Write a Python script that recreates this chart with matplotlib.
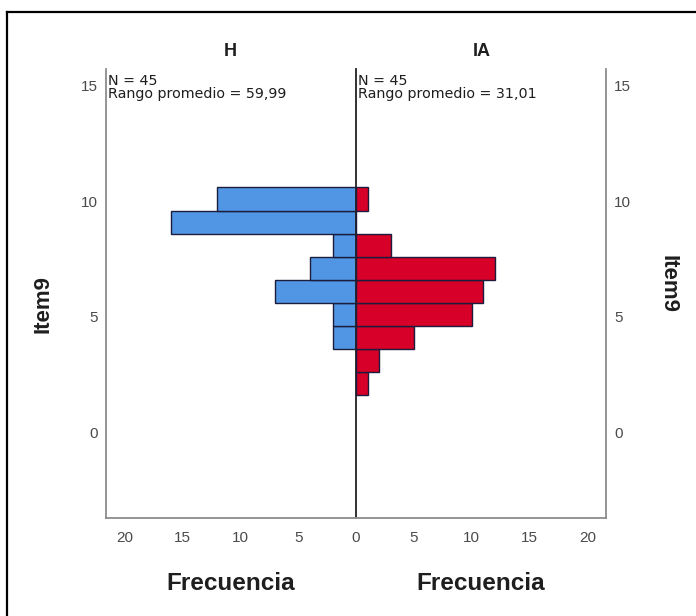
import matplotlib
matplotlib.use("Agg")
import matplotlib.pyplot as plt
from matplotlib.lines import Line2D

plt.rcParams['font.family'] = ['Liberation Sans', 'DejaVu Sans']

# Data
bin_centers = [2.1, 3.1, 4.1, 5.1, 6.1, 7.1, 8.1, 9.1, 10.1]
freq_H = [0, 0, 2, 2, 7, 4, 2, 16, 12]
freq_IA = [1, 2, 5, 10, 11, 12, 3, 0, 1]
group_titles = ["H", "IA"]
stats_H = ["N = 45", "Rango promedio = 59,99"]
stats_IA = ["N = 45", "Rango promedio = 31,01"]
y_ticks = [0, 5, 10, 15]
x_ticks = [0, 5, 10, 15, 20]
y_label = "Item9"
x_label = "Frecuencia"

blue = "#5096E4"
red = "#D60028"
edge = "#1c1c3c"
axis_gray = "#8c8c8c"
tick_color = "#4a4a4a"
text_color = "#1e1e1e"

W, H = 696, 616
fig = plt.figure(figsize=(W / 100, H / 100), dpi=100)

def fx(px):
    return px / W

def fy(py):
    return 1 - py / H

x0, xm, x1 = 106, 356, 606
ytop, ybot = 69, 518
axL = fig.add_axes([fx(x0), fy(ybot), fx(xm - x0), fy(ytop) - fy(ybot)])
axR = fig.add_axes([fx(xm), fy(ybot), fx(x1 - xm), fy(ytop) - fy(ybot)])

ylim = (-3.72, 15.73)
xmax = 21.6

axL.barh(bin_centers, freq_H, height=1.0, color=blue, edgecolor=edge, linewidth=1.0)
axR.barh(bin_centers, freq_IA, height=1.0, color=red, edgecolor=edge, linewidth=1.0)

axL.set_xlim(xmax, 0)
axR.set_xlim(0, xmax)
for ax in (axL, axR):
    ax.set_ylim(*ylim)
    ax.spines['top'].set_visible(False)
    ax.set_facecolor('none')
    ax.tick_params(length=0, colors=tick_color, labelsize=11)
    ax.tick_params(axis='x', pad=9)
    ax.tick_params(axis='y', pad=6)

axL.set_yticks(y_ticks)
axL.set_xticks(x_ticks)
axL.spines['left'].set_color(axis_gray)
axL.spines['left'].set_linewidth(1.3)
axL.spines['bottom'].set_color(axis_gray)
axL.spines['bottom'].set_linewidth(1.3)
axL.spines['right'].set_color("#222222")
axL.spines['right'].set_linewidth(1.3)

axR.set_xticks(x_ticks[1:])
axR.set_yticks(y_ticks)
axR.yaxis.tick_right()
axR.spines['left'].set_visible(False)
axR.spines['right'].set_color(axis_gray)
axR.spines['right'].set_linewidth(1.3)
axR.spines['bottom'].set_color(axis_gray)
axR.spines['bottom'].set_linewidth(1.3)

# axis titles
fig.text(fx(43), fy(304), y_label, rotation=90, ha='center', va='center',
         fontsize=16, fontweight='bold', color=text_color)
fig.text(fx(668), fy(284), y_label, rotation=270, ha='center', va='center',
         fontsize=16, fontweight='bold', color=text_color)
fig.text(fx(231), fy(583), x_label, ha='center', va='center',
         fontsize=17.5, fontweight='bold', color=text_color)
fig.text(fx(481), fy(583), x_label, ha='center', va='center',
         fontsize=17.5, fontweight='bold', color=text_color)

# panel titles
fig.text(fx(230), fy(52), group_titles[0], ha='center', va='center',
         fontsize=13, fontweight='bold', color=text_color)
fig.text(fx(482), fy(52), group_titles[1], ha='center', va='center',
         fontsize=13, fontweight='bold', color=text_color)

# statistics text
for xpx, lines in ((108, stats_H), (358, stats_IA)):
    fig.text(fx(xpx), fy(85), lines[0], ha='left', va='baseline',
             fontsize=10.3, color=text_color, family='DejaVu Sans')
    fig.text(fx(xpx), fy(98), lines[1], ha='left', va='baseline',
             fontsize=10.3, color=text_color, family='DejaVu Sans')

# outer frame (top and left edges visible)
fig.add_artist(Line2D([fx(7), 1.0], [fy(12), fy(12)], color='black', linewidth=1.6))
fig.add_artist(Line2D([fx(7), fx(7)], [fy(12), 0.0], color='black', linewidth=1.6))

fig.savefig("out.png", dpi=100)
